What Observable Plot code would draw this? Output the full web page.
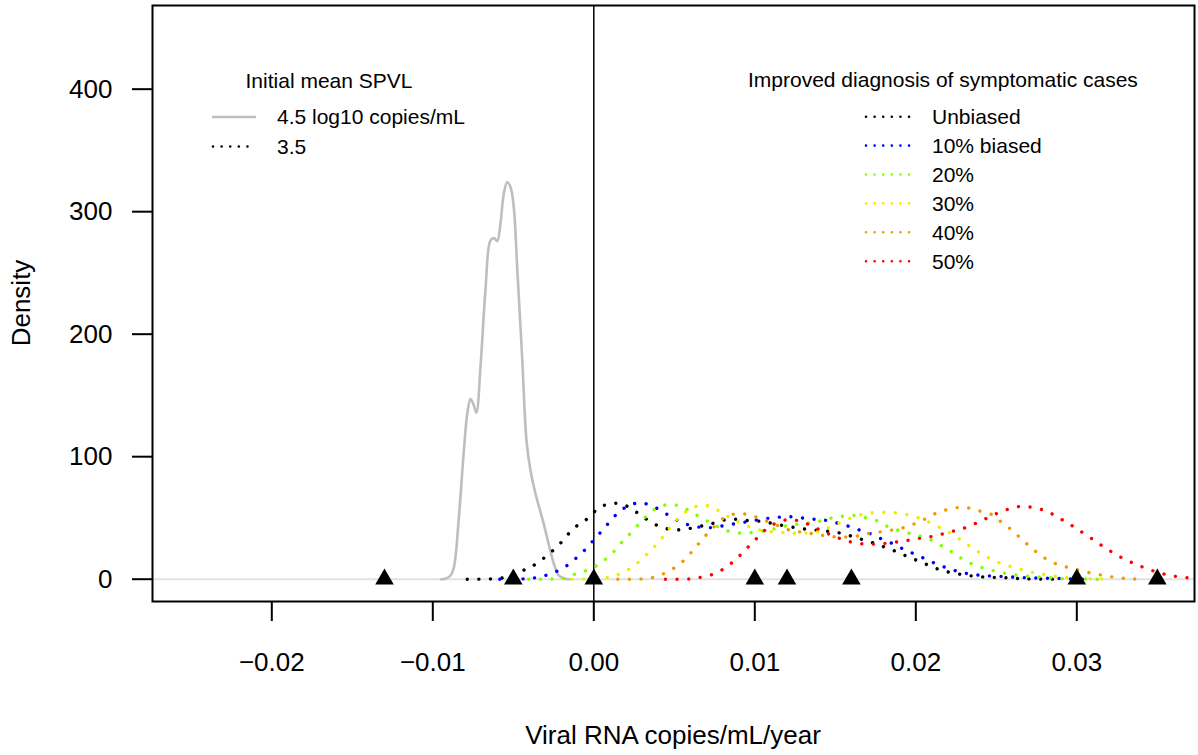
<!DOCTYPE html>
<html>
<head>
<meta charset="utf-8">
<script src="https://cdn.jsdelivr.net/npm/d3@7"></script>
<script src="https://cdn.jsdelivr.net/npm/@observablehq/plot@0.6"></script>
<style>
  html, body { margin: 0; padding: 0; background: #fff; }
  #chart { position: relative; width: 1198px; height: 755px; }
</style>
</head>
<body>
<div id="chart"></div>
<script>
// ---------- data ----------
const xTicks = [-0.02, -0.01, 0, 0.01, 0.02, 0.03];
const yTicks = [0, 100, 200, 300, 400];
const xTitle = "Viral RNA copies/mL/year";
const yTitle = "Density";

// triangles (markers on the zero line)
const triangleX = [-0.013, -0.005, 0, 0.010, 0.012, 0.016, 0.030, 0.035];

// Initial mean SPVL 4.5 (solid grey density)
const spvl45X = [-0.0095, -0.00922, -0.0089, -0.00869, -0.00838, -0.00807, -0.00786, -0.00766, -0.00745, -0.00729, -0.00704, -0.00673, -0.00642, -0.0062, -0.006, -0.0058, -0.00559, -0.00538, -0.00517, -0.00497, -0.00476, -0.00445, -0.00418, -0.00393, -0.00362, -0.00311, -0.00248, -0.00217, -0.00176, -0.0015];
const spvl45Y = [0, 0.3, 3, 9.8, 50.6, 105, 135, 147, 141.8, 136, 173, 235.7, 276.5, 278.4, 276, 290, 314.6, 324, 320, 303.7, 254.7, 181, 113, 88.7, 69.7, 45.2, 12.6, 3, 0.3, 0];

// Initial mean SPVL 3.5 (dotted), by scenario
const seriesNames = ["Unbiased", "10% biased", "20%", "30%", "40%", "50%"];
const seriesColors = ["#000000", "#0000ff", "#7fff00", "#eeee00", "#ee9a00", "#ff0000"];

const unbiasedX = [-0.00786, -0.00642, -0.00569, -0.00424, -0.00352, -0.00289, -0.00232, -0.00176, -0.00124, -0.0007, -0.0002, 0.00035, 0.001, 0.00172, 0.00239, 0.003, 0.00363, 0.00431, 0.00503, 0.00576, 0.00652, 0.00725, 0.00798, 0.0087, 0.00942, 0.01017, 0.01091, 0.01166, 0.01236, 0.01309, 0.01388, 0.0146, 0.01532, 0.01605, 0.01677, 0.0175, 0.01818, 0.01888, 0.01957, 0.02025, 0.02096, 0.02164, 0.02236, 0.02309, 0.02385, 0.0246, 0.02537, 0.02607, 0.02686, 0.0291];
const unbiasedY = [0, 0.3, 1, 8, 13, 19.6, 26, 34, 42, 46, 52, 58.5, 61.5, 61.5, 57, 51.4, 46, 42, 40.3, 41, 43, 45, 48, 49, 48, 47.5, 46, 44, 42.4, 41, 40, 39, 37.6, 35, 32, 29, 25.6, 22, 18, 14.4, 10.4, 7, 5, 3.3, 2.2, 1.6, 1.4, 0.8, 0.3, 0];

const b10X = [-0.00584, -0.00437, -0.00362, -0.00289, -0.00217, -0.00155, -0.00099, -0.00045, 0.00006, 0.00056, 0.00104, 0.00155, 0.00222, 0.0029, 0.00358, 0.00425, 0.00493, 0.00559, 0.00632, 0.00704, 0.00776, 0.00849, 0.00925, 0.00998, 0.01071, 0.01145, 0.01217, 0.01294, 0.01366, 0.01443, 0.01516, 0.01588, 0.01657, 0.01729, 0.01798, 0.01868, 0.01932, 0.02002, 0.02071, 0.02139, 0.02209, 0.02278, 0.0235, 0.02422, 0.02499, 0.02574, 0.0265, 0.02723, 0.02799, 0.02874, 0.0295, 0.0308];
const b10Y = [0, 0.3, 1.2, 3.5, 7.3, 12.2, 18.5, 25.3, 33, 40.3, 47.7, 54.7, 60.4, 62.4, 60, 55.3, 50, 45.7, 43, 42, 43, 44.7, 46.3, 48, 49.5, 50.6, 51, 50, 49, 48, 45.7, 43, 39.8, 36.5, 32.2, 28.3, 24, 20, 15.8, 11.8, 8.5, 5.7, 4, 3, 2.5, 2, 1.4, 1.1, 0.8, 0.6, 0.3, 0];

const b20X = [-0.00404, -0.00258, -0.00182, -0.00109, -0.00041, 0.00031, 0.00087, 0.00141, 0.00186, 0.00239, 0.0029, 0.00342, 0.00404, 0.00476, 0.00549, 0.00615, 0.0068, 0.00745, 0.00812, 0.00884, 0.00957, 0.01031, 0.01104, 0.01176, 0.01248, 0.01325, 0.01398, 0.0147, 0.01547, 0.01619, 0.01692, 0.01767, 0.0183, 0.01899, 0.01973, 0.02046, 0.02116, 0.0218, 0.02242, 0.02304, 0.02375, 0.02443, 0.02516, 0.02588, 0.02665, 0.02739, 0.02816, 0.02893, 0.02967, 0.0313];
const b20Y = [0, 0.2, 0.8, 4.6, 7.3, 12, 18, 24.8, 32, 39, 46.5, 53.4, 59, 61, 59, 54, 49.3, 44.7, 40.3, 37.9, 37.9, 39, 40.6, 43, 44.7, 45.7, 47.3, 49.8, 51.4, 52, 50, 47.3, 42.7, 39.8, 37, 34.3, 30.8, 25.6, 20.7, 15.3, 11.2, 8.2, 6, 4, 2.8, 2, 1.4, 0.6, 0.3, 0];

const b30X = [-0.00134, -0.00064, 0.00093, 0.00161, 0.00228, 0.0029, 0.00342, 0.00394, 0.00441, 0.00487, 0.00534, 0.0059, 0.00663, 0.00731, 0.00804, 0.0087, 0.00938, 0.01004, 0.01077, 0.01153, 0.01226, 0.01298, 0.01377, 0.0145, 0.01522, 0.01584, 0.01657, 0.01725, 0.01801, 0.01874, 0.0195, 0.02023, 0.02091, 0.02158, 0.02222, 0.02284, 0.02346, 0.02408, 0.02475, 0.02547, 0.02619, 0.02692, 0.02768, 0.02837, 0.02913, 0.02988, 0.03135, 0.0321];
const b30Y = [0, 0.2, 1.6, 4.4, 9, 15.3, 22, 29, 36.5, 44.4, 51.2, 56.6, 60.2, 59, 53.4, 48.5, 44.4, 41, 39, 38.4, 37.6, 37.6, 38.4, 41.6, 45.7, 49.3, 52.6, 54.2, 54.7, 54.2, 52.6, 49.8, 46, 41.6, 37, 31.6, 26, 20.7, 15.8, 12, 9.3, 6.5, 4.4, 3, 1.6, 0.8, 0.2, 0];

const b40X = [0.00149, 0.00296, 0.00373, 0.00441, 0.00507, 0.00563, 0.00615, 0.00663, 0.00714, 0.00766, 0.00822, 0.00891, 0.00967, 0.01035, 0.01108, 0.0118, 0.01248, 0.01325, 0.01398, 0.0147, 0.01545, 0.01619, 0.01692, 0.01767, 0.01837, 0.01911, 0.01981, 0.0205, 0.02118, 0.02189, 0.02261, 0.02334, 0.02406, 0.02475, 0.0254, 0.02599, 0.02655, 0.02708, 0.02764, 0.02826, 0.02899, 0.02967, 0.0304, 0.03112, 0.03189, 0.03261, 0.03338, 0.0341];
const b40Y = [0, 0.3, 1.6, 4.9, 9.8, 15.8, 23.4, 30.8, 38.4, 45.2, 51.2, 53.4, 52.6, 49.3, 45.7, 41.6, 39.2, 37.9, 36.2, 34.9, 34.5, 34.9, 37, 38.4, 39.8, 41.6, 44.7, 48.7, 53.4, 56.6, 58.5, 58, 55.3, 52.6, 45.7, 39.8, 33, 26.7, 20.7, 15.3, 11.2, 9, 6.5, 4.4, 2.5, 1.1, 0.3, 0];

const b50X = [0.00445, 0.00594, 0.00667, 0.00739, 0.00807, 0.00866, 0.00922, 0.00973, 0.01025, 0.01081, 0.01143, 0.01216, 0.01288, 0.01357, 0.01422, 0.01495, 0.01563, 0.01636, 0.01708, 0.01781, 0.01857, 0.01932, 0.02004, 0.02077, 0.02153, 0.02226, 0.02298, 0.02366, 0.02433, 0.02499, 0.02568, 0.02644, 0.02717, 0.02789, 0.02857, 0.02924, 0.02986, 0.03048, 0.0311, 0.03172, 0.03236, 0.03302, 0.03369, 0.03437, 0.03507, 0.03582, 0.03655, 0.03727, 0.038];
const b50Y = [0, 0.2, 1.6, 4, 8.5, 14.4, 21.2, 28.3, 35, 42, 46.5, 48.7, 47, 43.3, 39, 35, 31.6, 29.4, 28.6, 28.9, 30, 31.3, 33, 34.3, 36.5, 39, 41.6, 45.2, 49.3, 53.4, 56.9, 59.3, 58.8, 56.6, 52.6, 47.3, 42.4, 37, 31.6, 26, 20.7, 16, 12, 8.5, 5.5, 3, 1.6, 0.8, 0.5];

// ---------- tables built from the arrays ----------
const spvl45 = spvl45X.map((x, i) => ({x, y: spvl45Y[i]}));
const seriesXs = [unbiasedX, b10X, b20X, b30X, b40X, b50X];
const seriesYs = [unbiasedY, b10Y, b20Y, b30Y, b40Y, b50Y];
const dotted = seriesNames.flatMap((name, k) =>
  seriesXs[k].map((x, i) => ({series: name, x, y: seriesYs[k][i]})));

const FONT = "'Liberation Sans', Arial, Helvetica, sans-serif";
const dash = "0.01 11.6";
const legendDash = "0.01 8.6";

const chart = Plot.plot({
  width: 1198,
  height: 755,
  marginLeft: 152,
  marginRight: 4,
  marginTop: 5,
  marginBottom: 154,
  style: {fontFamily: FONT, fontSize: "26px", color: "black", background: "white", overflow: "visible"},
  x: {domain: [-0.02741, 0.03731]},
  y: {domain: [-18.2, 468.3]},
  color: {domain: seriesNames, range: seriesColors},
  marks: [
    Plot.ruleY([0], {stroke: "#e2e2e2", strokeWidth: 2}),
    Plot.ruleX([0], {stroke: "black", strokeWidth: 1.5}),
    Plot.line(spvl45, {x: "x", y: "y", stroke: "#bebebe", strokeWidth: 2.6, curve: "catmull-rom", clip: true}),
    Plot.line(dotted, {x: "x", y: "y", z: "series", stroke: "series", strokeWidth: 3.4,
      strokeDasharray: dash, strokeLinecap: "round", curve: "catmull-rom", clip: true}),
    Plot.dot(triangleX, {x: d => d, y: () => 0, symbol: "triangle", fill: "black", stroke: "none", r: 6.9}),
    Plot.frame({stroke: "black", strokeWidth: 2}),
    Plot.axisX({ticks: xTicks, tickSize: 20, tickPadding: 31, strokeWidth: 2,
      tickFormat: d3.format(".2f"), fontSize: 26, label: null}),
    Plot.axisY({ticks: yTicks, tickSize: 20, tickPadding: 20, strokeWidth: 2,
      tickFormat: d => String(d), fontSize: 26, label: null})
  ]
});

document.getElementById("chart").appendChild(chart);

// ---------- titles and legends ----------
const svg = d3.select(chart);
const xs = chart.scale("x"), ys = chart.scale("y");
const cx = (xs.range[0] + xs.range[1]) / 2;
const cy = (ys.range[0] + ys.range[1]) / 2;

svg.append("text").attr("x", cx).attr("y", 735).attr("dy", "0.35em")
  .attr("text-anchor", "middle").attr("font-size", 26).attr("font-family", FONT)
  .attr("fill", "black").text(xTitle);
svg.append("text").attr("transform", `translate(21,${cy}) rotate(-90)`).attr("dy", "0.35em")
  .attr("text-anchor", "middle").attr("font-size", 26).attr("font-family", FONT)
  .attr("fill", "black").text(yTitle);

const legFont = 21;
// left legend
const leftLegend = {title: "Initial mean SPVL", items: ["4.5 log10 copies/mL", "3.5"],
  styles: [{stroke: "#bebebe", dash: null, width: 2.6}, {stroke: "black", dash: legendDash, width: 2.6}]};
const gl = svg.append("g").attr("font-family", FONT).attr("font-size", legFont).attr("fill", "black");
gl.append("text").attr("x", 329).attr("y", 81).attr("dy", "0.35em").attr("text-anchor", "middle").text(leftLegend.title);
leftLegend.items.forEach((t, i) => {
  const y = 117 + i * 29.5;
  const st = leftLegend.styles[i];
  const ln = gl.append("line").attr("x1", st.dash ? 213 : 212).attr("x2", 256).attr("y1", y).attr("y2", y)
    .attr("stroke", st.stroke).attr("stroke-width", st.width);
  if (st.dash) ln.attr("stroke-dasharray", st.dash).attr("stroke-linecap", "round");
  gl.append("text").attr("x", 277).attr("y", y).attr("dy", "0.35em").attr("text-anchor", "start").text(t);
});

// right legend
const gr = svg.append("g").attr("font-family", FONT).attr("font-size", legFont).attr("fill", "black");
gr.append("text").attr("x", 748).attr("y", 80).attr("dy", "0.35em").attr("text-anchor", "start")
  .text("Improved diagnosis of symptomatic cases");
seriesNames.forEach((t, i) => {
  const y = 116.7 + i * 28.9;
  gr.append("line").attr("x1", 866).attr("x2", 910).attr("y1", y).attr("y2", y)
    .attr("stroke", seriesColors[i]).attr("stroke-width", 2.6)
    .attr("stroke-dasharray", legendDash).attr("stroke-linecap", "round");
  gr.append("text").attr("x", 932).attr("y", y).attr("dy", "0.35em").attr("text-anchor", "start").text(t);
});
</script>
</body>
</html>
